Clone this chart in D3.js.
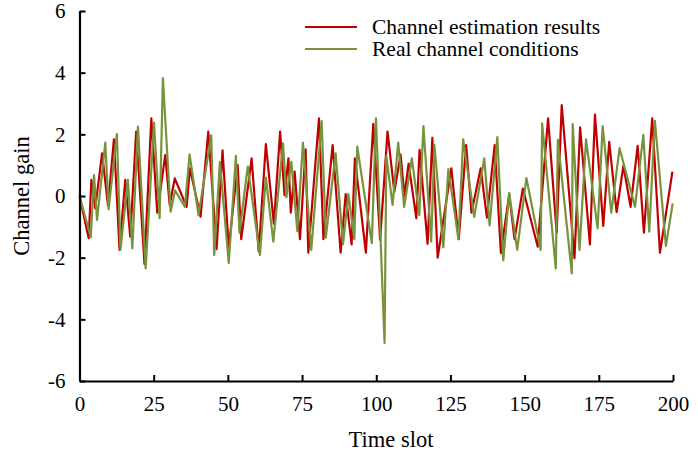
<!DOCTYPE html>
<html>
<head>
<meta charset="utf-8">
<script src="https://cdn.jsdelivr.net/npm/d3@7"></script>
<style>
  body { margin: 0; background: #fff; }
  text { font-family: "Liberation Serif", "Times New Roman", serif; }
</style>
</head>
<body>
<div id="chart"></div>
<script>
// series: [time slot, gain]
var estSlots = [0, 3.1, 4.0, 5.3, 7.6, 9.6, 11.6, 13.5, 15.4, 17.1, 19.1, 21.9, 24.2, 26.2, 28.9, 30.4, 32.1, 36.1, 37.2, 40.8,
  43.4, 46.2, 48.2, 50.3, 53.3, 54.5, 58.0, 60.4, 62.8, 65.5, 67.6, 69.1, 70.4, 71.2, 72.5, 74.3, 76.2, 77.1, 80.7, 82.2,
  85.3, 88.0, 89.7, 91.7, 92.8, 96.5, 99.0, 101.3, 103.8, 106.1, 108.2, 109.5, 110.9, 113.5, 114.6, 117.3, 118.9, 120.7, 125.3, 127.8,
  130.3, 132.1, 135.2, 137.3, 139.9, 142.0, 144.8, 146.6, 149.4, 154.4, 157.9, 160.8, 162.5, 166.8, 168.7, 172.0, 173.7, 176.5, 178.5, 181.0,
  183.3, 185.7, 188.1, 190.2, 193.0, 195.6, 199.8];
var estGain = [0, -1.37, 0.52, -0.4, 1.38, -0.3, 1.84, -1.75, 0.52, -1.32, 2.09, -2.2, 2.52, -0.54, 1.33, -0.29, 0.57, -0.35, 0.9, -0.67,
  2.09, -1.72, 1.48, -1.69, 1.0, -1.4, 1.22, -1.8, 1.68, -0.9, 2.09, 0.03, 1.22, -0.54, 0.79, -1.4, 1.51, -1.84, 2.52, -1.4,
  1.65, -1.84, 0.06, -1.57, 1.22, -1.84, 2.34, -1.42, 2.09, 0.14, 1.34, 0.0, 1.05, -0.72, 1.5, -1.55, 1.89, -2.0, 0.9, -1.4,
  1.65, -0.54, 0.9, -0.7, 1.65, -1.85, 0.05, -1.4, 0.24, -1.64, 2.52, -1.19, 2.95, -2.02, 2.23, -1.57, 2.64, -0.97, 1.76, -0.52,
  0.98, -0.35, 1.63, -1.19, 2.52, -1.84, 0.79];

var realSlots = [0, 3.8, 4.9, 5.9, 8.7, 9.8, 12.6, 13.8, 16.3, 17.8, 19.7, 22.3, 25.1, 27.0, 28.1, 30.7, 32.2, 35.5, 37.1, 40.1,
  44.4, 45.4, 47.3, 50.3, 52.7, 53.9, 56.7, 60.8, 62.8, 65.3, 68.6, 69.7, 71.4, 73.4, 75.3, 78.1, 81.6, 83.0, 86.3, 88.8,
  90.6, 92.6, 93.6, 98.5, 99.9, 102.8, 103.4, 105.5, 107.4, 109.4, 112.0, 114.5, 115.9, 118.5, 119.6, 122.6, 124.3, 127.7, 129.3, 133.0,
  136.4, 138.2, 140.8, 142.8, 144.8, 147.5, 150.6, 155.4, 155.9, 160.5, 161.2, 165.9, 166.2, 168.5, 170.7, 174.6, 176.3, 179.2, 182.0, 187.2,
  190.0, 192.0, 193.9, 197.6, 199.9];
var realGain = [0, -1.34, 0.68, -0.78, 1.73, -0.43, 2.01, -1.75, 0.52, -1.7, 2.25, -2.35, 2.38, -0.72, 3.82, -0.51, 0.18, -0.35, 1.35, -0.62,
  1.97, -1.91, 1.1, -2.17, 1.3, -1.19, 0.95, -1.91, 0.6, -1.48, 1.71, -0.04, 1.11, -1.14, 1.73, -1.75, 2.43, -1.35, 1.38, -1.56,
  0.06, -1.4, 1.6, -1.53, 2.52, -4.77, 1.3, -0.29, 1.73, -0.35, 1.22, -0.62, 2.27, -1.48, 1.65, -1.67, 0.87, -1.4, 1.84, -0.68,
  1.22, -0.95, 1.91, -2.09, 0.1, -1.75, 0.58, -1.75, 2.36, -2.35, 1.82, -2.51, 2.33, -1.75, 1.84, -1.05, 2.27, -0.54, 1.55, -0.35,
  1.98, -1.16, 2.44, -1.62, -0.24];

var xTicks = [0, 25, 50, 75, 100, 125, 150, 175, 200];
var yTicks = [-6, -4, -2, 0, 2, 4, 6];
var seriesNames = ["Channel estimation results", "Real channel conditions"];
var seriesColors = ["#c00000", "#77933c"];

function drawChart() {
  var width = 698, height = 457;
  var mLeft = 79.5, mRight = 673, mTop = 11, mBottom = 381;

  var svg = d3.select("#chart").append("svg")
    .attr("width", width)
    .attr("height", height);

  var x = d3.scaleLinear().domain([0, 200]).range([mLeft, mRight]);
  var y = d3.scaleLinear().domain([-6, 6]).range([mBottom, mTop]);

  var line = d3.line()
    .x(function(d) { return x(d[0]); })
    .y(function(d) { return y(d[1]); });

  var estData = d3.zip(estSlots, estGain);
  var realData = d3.zip(realSlots, realGain);

  svg.append("path").datum(estData)
    .attr("fill", "none")
    .attr("stroke", seriesColors[0])
    .attr("stroke-width", 2.2)
    .attr("stroke-linejoin", "round")
    .attr("d", line);

  svg.append("path").datum(realData)
    .attr("fill", "none")
    .attr("stroke", seriesColors[1])
    .attr("stroke-width", 2.2)
    .attr("stroke-linejoin", "round")
    .attr("d", line);

  // axes, ticks point inward; plain hyphen for negatives like the original
  var plain = function(d) { return String(d); };
  var xAxis = svg.append("g")
    .attr("transform", "translate(0," + mBottom + ")")
    .call(d3.axisBottom(x).tickValues(xTicks).tickFormat(plain).tickSizeInner(-6).tickSizeOuter(0).tickPadding(15));
  var yAxis = svg.append("g")
    .attr("transform", "translate(" + mLeft + ",0)")
    .call(d3.axisLeft(y).tickValues(yTicks).tickFormat(plain).tickSizeInner(-6).tickSizeOuter(0).tickPadding(14));

  [xAxis, yAxis].forEach(function(g) {
    g.select(".domain").attr("stroke", "#000").attr("stroke-width", 2.2);
    g.selectAll(".tick line").attr("stroke", "#000").attr("stroke-width", 2);
    g.selectAll(".tick text")
      .attr("fill", "#000")
      .style("font-size", "21px")
      .style("font-family", '"Liberation Serif", "Times New Roman", serif');
  });

  // axis titles
  svg.append("text")
    .attr("x", 391)
    .attr("y", 447)
    .attr("text-anchor", "middle")
    .style("font-size", "22.5px")
    .text("Time slot");

  svg.append("text")
    .attr("transform", "translate(29,196) rotate(-90)")
    .attr("text-anchor", "middle")
    .style("font-size", "22.5px")
    .text("Channel gain");

  // legend
  var legend = svg.append("g");
  seriesNames.forEach(function(name, i) {
    var ly = 27 + i * 22;
    legend.append("line")
      .attr("x1", 305).attr("x2", 357)
      .attr("y1", ly).attr("y2", ly)
      .attr("stroke", seriesColors[i])
      .attr("stroke-width", 2.2);
    legend.append("text")
      .attr("x", 372)
      .attr("y", ly + 7)
      .style("font-size", "21.5px")
      .text(name);
  });
}

drawChart();
</script>
</body>
</html>
